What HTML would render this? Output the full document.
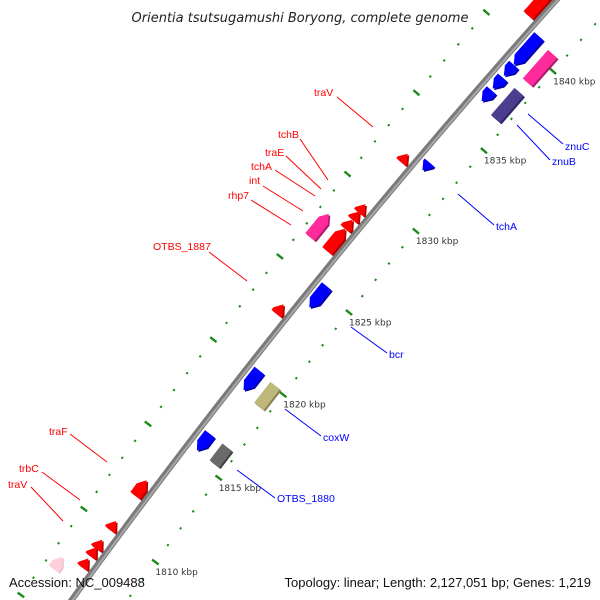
<!DOCTYPE html>
<html><head><meta charset="utf-8"><style>
html,body{margin:0;padding:0;background:#fff;width:600px;height:600px;overflow:hidden;}
svg{display:block;font-family:"Liberation Sans",sans-serif;}
</style></head><body>
<svg id="map" width="600" height="600" viewBox="0 0 600 600" xmlns="http://www.w3.org/2000/svg">
<rect width="600" height="600" fill="#fff"/>
<g id="ticks"></g>
<g id="backbone"></g>
<g id="genes"></g>
<g id="labels"></g>
<text x="300" y="22" text-anchor="middle" font-size="13" font-style="italic" fill="#222" style="font-family:'DejaVu Sans',sans-serif">Orientia tsutsugamushi Boryong, complete genome</text>
<text x="9" y="587" font-size="13" fill="#111">Accession: NC_009488</text>
<text x="591" y="587" text-anchor="end" font-size="13" fill="#111">Topology: linear; Length: 2,127,051 bp; Genes: 1,219</text>
</svg>
<script>
// data
const tickStart = 1800, tickEnd = 1850;
const geneNames  = ["g1","traV","tchB","traE","tchA","int","rhp7","OTBS_1887","traF","trbC","traV2","g12","g13","g14","znuC","znuB","g17","g18","g19","tchA2","bcr","coxW","g23","OTBS_1880","g25","g26"];
const geneStart  = [1841.2,1832.05,1828.95,1828.5,1827.95,1826.6,1826.6,1822.8,1811.95,1809.95,1808.85,1808.4,1807.75,1806.9,1838.8,1836.5,1839.0,1838.3,1837.5,1832.4,1824.0,1819.0,1818.85,1815.4,1815.4,1836.7];
const geneEnd    = [1843.0,1832.55,1829.45,1829.0,1828.5,1827.95,1828.0,1823.35,1812.85,1810.45,1809.35,1808.9,1808.25,1807.6,1840.6,1838.2,1840.8,1839.0,1838.2,1832.9,1825.3,1820.2,1820.1,1816.4,1816.4,1837.4];
const geneStrand = [1,1,1,1,1,1,1,1,1,1,1,1,1,1,0,0,-1,-1,-1,-1,-1,-1,0,-1,0,-1];
const geneRing   = [1,1,1,1,1,1,2,1,1,1,1,1,1,2,-2,-2,-1,-1,-1,-1,-1,-1,-2,-1,-2,-1];
const geneColor  = ["#ff0000","#ff0000","#ff0000","#ff0000","#ff0000","#ff0000","#ff2a9c","#ff0000","#ff0000","#ff0000","#ff0000","#ff0000","#ff0000","#ffd0dc","#ff2a9c","#4a3f8f","#0000ff","#0000ff","#0000ff","#0000ff","#0000ff","#0000ff","#bdb77a","#0000ff","#6a6a6a","#0000ff"];
const geneShade  = ["#b00000","#b00000","#b00000","#b00000","#b00000","#b00000","#b0186a","#b00000","#b00000","#b00000","#b00000","#b00000","#b00000","#f0c0cc","#b0186a","#2e2660","#0000a8","#0000a8","#0000a8","#0000a8","#0000a8","#0000a8","#8a8450","#0000a8","#444444","#0000a8"];
// geometry
const CX=6125, CY=4994, R0=7480, DEG=0.1623;
function ang(k){return (-138.54-(1840-k)*DEG)*Math.PI/180;}
function pt(k,r){const a=ang(k);return [CX+r*Math.cos(a), CY+r*Math.sin(a)];}
const NS="http://www.w3.org/2000/svg";
function mk(tag,attrs,parent){const e=document.createElementNS(NS,tag);for(const k in attrs)e.setAttribute(k,attrs[k]);parent.appendChild(e);return e;}

// ticks
const tg=document.getElementById('ticks');
for(let k=tickStart;k<=tickEnd;k++){
  const big=(k%5===0);
  [7524,7435].forEach((r)=>{
    const h=big?4:1;
    const a=pt(k,r-h), b=pt(k,r+h);
    const l=mk('line',{x1:a[0].toFixed(1),y1:a[1].toFixed(1),x2:b[0].toFixed(1),y2:b[1].toFixed(1),stroke:'#1d8a1d','stroke-width':big?2.4:2.2},tg);
    
    
  });
  if(big){
    const p=pt(k,7435);
    const t=mk('text',{x:p[0].toFixed(1),y:(p[1]+13).toFixed(1),'font-size':9,fill:'#333',style:"font-family:'DejaVu Sans',sans-serif"},tg);
    t.textContent=k+' kbp';
    
    
  }
}

// backbone
const bg=document.getElementById('backbone');
const b1=pt(1800,R0), b2=pt(1850,R0);
const bb=mk('path',{d:`M${b1[0]},${b1[1]} A${R0},${R0} 0 0 1 ${b2[0]},${b2[1]}`,stroke:'#7a7a7a','stroke-width':6,fill:'none'},bg);


const c1=pt(1800,R0-1), c2=pt(1850,R0-1);
const hl=mk('path',{d:`M${c1[0]},${c1[1]} A${R0-1},${R0-1} 0 0 1 ${c2[0]},${c2[1]}`,stroke:'#a8a8a8','stroke-width':2,fill:'none'},bg);



// genes
const gg=document.getElementById('genes');
function ringR(ring){
  const o={1:[5,17],2:[27,39],'-1':[-17,-5],'-2':[-39,-27]}[ring];
  return [R0+o[0],R0+o[1]];
}
for(let i=0;i<geneStart.length;i++){
  const [r1,r2]=ringR(geneRing[i]);
  const s=geneStart[i], e=geneEnd[i], st=geneStrand[i];
  const len=e-s, head=Math.min(0.4,len);
  const rm=(r1+r2)/2;
  let pts;
  if(st===1){
    pts=[pt(s,r1),pt(e-head,r1),pt(e,rm),pt(e-head,r2),pt(s,r2)];
  }else if(st===-1){
    pts=[pt(e,r1),pt(s+head,r1),pt(s,rm),pt(s+head,r2),pt(e,r2)];
  }else{
    pts=[pt(s,r1),pt(e,r1),pt(e,r2),pt(s,r2)];
  }
  const str=pts.map(p=>p[0].toFixed(1)+','+p[1].toFixed(1)).join(' ');
  const str2=pts.map(p=>(p[0]+1.5).toFixed(1)+','+(p[1]+1.5).toFixed(1)).join(' ');
  const sh=mk('polygon',{points:str2,fill:geneShade[i]},gg);
  
  
  const g=mk('polygon',{points:str,fill:geneColor[i]},gg);
  
  
}

// labels
const labelText = ["traV","tchB","traE","tchA","int","rhp7","OTBS_1887","traF","trbC","traV","znuC","znuB","tchA","bcr","coxW","OTBS_1880"];
const labelColor= ["#f00","#f00","#f00","#f00","#f00","#f00","#f00","#f00","#f00","#f00","#00f","#00f","#00f","#00f","#00f","#00f"];
const labelPos  = [[314,96],[278,138],[265,156],[251,170],[249,184],[228,199],[153,250],[49,435],[19,472],[8,488],[565,150],[552,165],[496,230],[389,358],[323,441],[277,502]];
const leaderFrom= [[337,97],[300,139],[286,156],[275,170],[263,186],[251,200],[209,252],[70,434],[42,472],[31,487],[563,144],[550,160],[494,225],[387,353],[321,436],[275,498]];
const leaderTo  = [[373,127],[328,180],[321,189],[315,196],[303,211],[291,225],[247,281],[107,462],[80,500],[63,521],[528,114],[517,125],[458,194],[351,327],[285,409],[237,470]];
const lg=document.getElementById('labels');
for(let i=0;i<labelText.length;i++){
  const l=mk('line',{x1:leaderFrom[i][0],y1:leaderFrom[i][1],x2:leaderTo[i][0],y2:leaderTo[i][1],stroke:labelColor[i],'stroke-width':1},lg);
  
  
  const t=mk('text',{x:labelPos[i][0],y:labelPos[i][1],'font-size':10.5,fill:labelColor[i]},lg);
  t.textContent=labelText[i];
  
  
}
</script>
</body></html>
